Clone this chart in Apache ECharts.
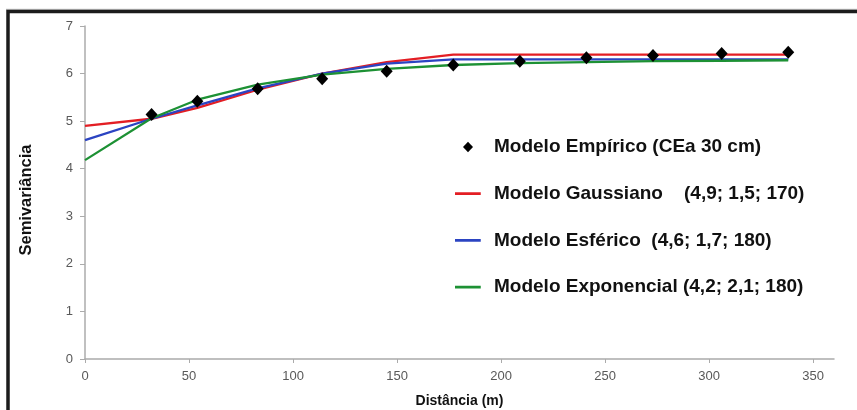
<!DOCTYPE html>
<html>
<head>
<meta charset="utf-8">
<script src="https://cdn.jsdelivr.net/npm/echarts@6/dist/echarts.min.js"></script>
<style>html,body{margin:0;padding:0;background:#fff}#c{width:857px;height:410px}</style>
</head>
<body>
<div id="c"></div>
<script>
// Lag distances (m) of the empirical semivariogram
const lags = [32, 54, 83, 114, 145, 177, 209, 241, 273, 306, 338];
const empirico = [5.14, 5.42, 5.68, 5.89, 6.05, 6.18, 6.26, 6.33, 6.38, 6.42, 6.45];
// Model curves, read at distance 0 and at each lag
const modelX = [0, 32, 54, 83, 114, 145, 177, 209, 241, 273, 306, 338];
const gaussiano = [4.9, 5.05, 5.28, 5.66, 6.0, 6.24, 6.4, 6.4, 6.4, 6.4, 6.4, 6.4];
const esferico = [4.6, 5.05, 5.33, 5.69, 6.0, 6.21, 6.3, 6.3, 6.3, 6.3, 6.3, 6.3];
const exponencial = [4.18, 5.06, 5.45, 5.77, 5.98, 6.1, 6.18, 6.22, 6.24, 6.26, 6.27, 6.28];
const xTicks = [0, 50, 100, 150, 200, 250, 300, 350];
const yTicks = [0, 1, 2, 3, 4, 5, 6, 7];
const names = [
  'Modelo Empírico (CEa 30 cm)',
  'Modelo Gaussiano    (4,9; 1,5; 170)',
  'Modelo Esférico  (4,6; 1,7; 180)',
  'Modelo Exponencial (4,2; 2,1; 180)'
];

const pair = (xs, ys) => xs.map((x, i) => [x, ys[i]]);
const chart = echarts.init(document.getElementById('c'), null, {renderer: 'canvas'});
const lineIcon = 'path://M0,0H25V2.6H0ZM33,1.3';
const diamondIcon = 'path://M-13,-7M21,7M0,-5.2L5,0L0,5.2L-5,0Z';
const labelFont = 'Liberation Sans, Arial, sans-serif';

chart.setOption({
  animation: false,
  backgroundColor: '#ffffff',
  grid: {left: 85, right: 23, top: 26, bottom: 51, outerBoundsMode: 'none', containLabel: false},
  graphic: [
    {type: 'line', shape: {x1: 6, y1: 9.3, x2: 857, y2: 9.3}, style: {stroke: '#b8b8b8', lineWidth: 1}, z: 99},
    {type: 'rect', shape: {x: 8, y: 11.5, width: 900, height: 450}, style: {fill: 'none', stroke: '#1c1c1c', lineWidth: 3.5}, z: 100}
  ],
  legend: {
    orient: 'vertical',
    left: 455,
    top: 137,
    padding: 0,
    itemWidth: 34,
    itemHeight: 14,
    itemGap: 26.7,
    textStyle: {fontFamily: labelFont, fontWeight: 'bold', fontSize: 19, color: '#111', lineHeight: 20},
    data: [
      {name: names[0], icon: diamondIcon},
      {name: names[1], icon: lineIcon},
      {name: names[2], icon: lineIcon},
      {name: names[3], icon: lineIcon}
    ]
  },
  xAxis: {
    type: 'value', min: 0, max: 360, interval: 50,
    name: 'Distância (m)', nameLocation: 'middle', nameGap: 35,
    nameTextStyle: {fontFamily: labelFont, fontWeight: 'bold', fontSize: 14, color: '#111'},
    axisLine: {show: true, lineStyle: {color: '#ababab', width: 1.5}},
    axisTick: {show: true, customValues: xTicks, length: 4, lineStyle: {color: '#ababab'}},
    axisLabel: {customValues: xTicks, margin: 11, fontFamily: labelFont, fontSize: 13, color: '#595959'},
    splitLine: {show: false}
  },
  yAxis: {
    type: 'value', min: 0, max: 7, interval: 1,
    name: 'Semivariância', nameLocation: 'middle', nameGap: 50,
    nameTextStyle: {fontFamily: labelFont, fontWeight: 'bold', fontSize: 16.5, color: '#111', padding: [0, 15, 0, 0]},
    axisLine: {show: true, lineStyle: {color: '#ababab', width: 1.5}},
    axisTick: {show: true, length: 5, lineStyle: {color: '#ababab'}},
    axisLabel: {margin: 12, fontFamily: labelFont, fontSize: 13, color: '#595959'},
    splitLine: {show: false}
  },
  series: [
    {name: names[1], type: 'line', data: pair(modelX, gaussiano), symbol: 'none', color: '#e31e24', lineStyle: {width: 2.3, color: '#e31e24'}, z: 2},
    {name: names[2], type: 'line', data: pair(modelX, esferico), symbol: 'none', color: '#2b44c2', lineStyle: {width: 2.3, color: '#2b44c2'}, z: 3},
    {name: names[3], type: 'line', data: pair(modelX, exponencial), symbol: 'none', color: '#1d9134', lineStyle: {width: 2.3, color: '#1d9134'}, z: 4},
    {name: names[0], type: 'scatter', data: pair(lags, empirico), symbol: 'diamond', symbolSize: [12, 13], color: '#000', itemStyle: {color: '#000', opacity: 1}, z: 10}
  ]
});
</script>
</body>
</html>
